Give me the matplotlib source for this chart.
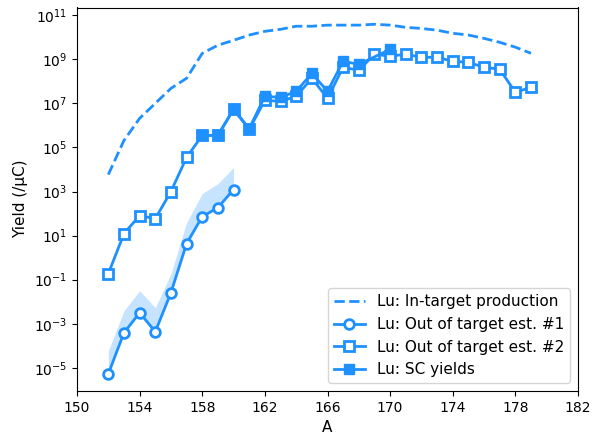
import matplotlib
matplotlib.use('Agg')
import matplotlib.pyplot as plt
import numpy as np

# in-target production (dashed)
A_prod = np.arange(152, 180)
log_prod = [3.77, 5.32, 6.32, 7.0, 7.68, 8.14, 9.27, 9.64, 9.86, 10.1,
            10.27, 10.36, 10.5, 10.5, 10.55, 10.55, 10.55, 10.59, 10.55, 10.45,
            10.4, 10.32, 10.18, 10.1, 9.95, 9.77, 9.55, 9.27]

# out of target est. #1 (circles) + upper band
A_est1 = np.arange(152, 161)
log_est1 = [-5.27, -3.41, -2.5, -3.36, -1.59, 0.64, 1.86, 2.27, 3.09]
log_est1_hi = [-4.23, -2.41, -1.5, -2.27, -0.73, 1.59, 2.91, 3.36, 4.09]

# out of target est. #2 (open squares)
A_est2 = np.arange(152, 180)
log_est2 = [-0.73, 1.09, 1.91, 1.77, 3.0, 4.55, 5.55, 5.55, 6.73, 5.82,
            7.14, 7.09, 7.32, 8.14, 7.23, 8.64, 8.5, 9.23, 9.14, 9.23,
            9.09, 9.09, 8.91, 8.86, 8.64, 8.55, 7.5, 7.73]

# SC yields (filled squares)
A_sc = [158, 159, 160, 161, 162, 163, 164, 165, 166, 167, 168, 170]
log_sc = [5.55, 5.55, 6.73, 5.86, 7.32, 7.27, 7.55, 8.36, 7.55, 8.91, 8.77, 9.45]

c = 'dodgerblue'

fig = plt.figure(figsize=(5.98, 4.32), dpi=100)
ax = fig.add_axes([77/598, 1-391/432, (578-77)/598, (391-7.5)/432])

ax.fill_between(A_est1, 10**np.array(log_est1), 10**np.array(log_est1_hi),
                color=c, alpha=0.25, linewidth=0)
ax.plot(A_prod, 10**np.array(log_prod), '--', color=c, lw=2,
        label='Lu: In-target production')
ax.plot(A_est1, 10**np.array(log_est1), '-o', color=c, lw=2, ms=7,
        mfc='white', mew=2, label='Lu: Out of target est. #1')
ax.plot(A_est2, 10**np.array(log_est2), '-s', color=c, lw=2, ms=7,
        mfc='white', mew=2, label='Lu: Out of target est. #2')
ax.plot(A_sc, 10**np.array(log_sc), '-s', color=c, lw=2, ms=7,
        label='Lu: SC yields')

ax.set_yscale('log')
ax.set_xlim(150, 182)
ax.set_ylim(10**-6.05, 10**11.35)
ax.set_xticks(np.arange(150, 183, 4))
ax.set_yticks([10.0**k for k in range(-5, 12, 2)])
ax.yaxis.set_minor_locator(matplotlib.ticker.NullLocator())
ax.set_xlabel('A', fontsize=11)
ax.set_ylabel('Yield (/μC)', fontsize=11)
ax.legend(loc='lower right', fontsize=11)

fig.savefig('out.png', dpi=100)
